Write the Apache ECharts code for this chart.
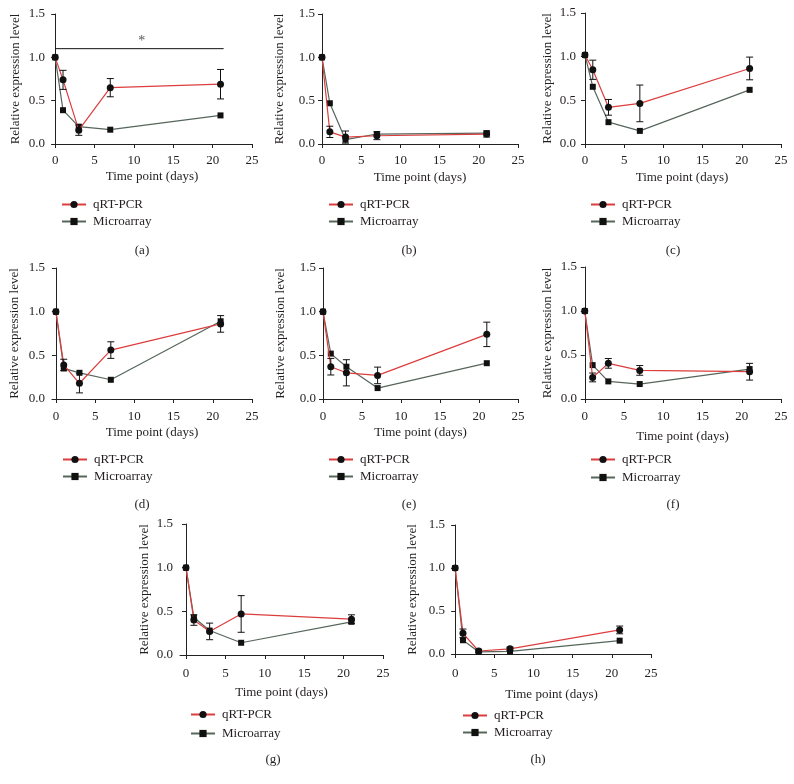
<!DOCTYPE html>
<html>
<head>
<meta charset="utf-8">
<script src="https://cdn.jsdelivr.net/npm/echarts@6/dist/echarts.min.js"></script>
<style>
html,body{margin:0;padding:0;background:#fff;}
#chart{width:794px;height:784px;}
</style>
</head>
<body>
<div id="chart"></div>
<script>
// ---- data ----
const days = [0, 1, 3, 7, 21];
const xTicks = [0, 5, 10, 15, 20, 25];
const yTicks = [0, 0.5, 1.0, 1.5];
const seriesNames = ['qRT-PCR', 'Microarray'];
const panelLabels = ['(a)', '(b)', '(c)', '(d)', '(e)', '(f)', '(g)', '(h)'];
const xAxisTitle = 'Time point (days)';
const yAxisTitle = 'Relative expression level';

const qpcrA = [1.0, 0.74, 0.16, 0.65, 0.69];
const errA  = [0, 0.11, 0.06, 0.105, 0.17];
const microA = [1.0, 0.39, 0.20, 0.165, 0.33];

const qpcrB = [1.0, 0.14, 0.08, 0.095, 0.115];
const errB  = [0, 0.065, 0.07, 0.045, 0.035];
const microB = [1.0, 0.47, 0.05, 0.115, 0.125];

const qpcrC = [1.02, 0.85, 0.42, 0.465, 0.865];
const errC  = [0, 0.11, 0.09, 0.21, 0.13];
const microC = [1.02, 0.655, 0.25, 0.15, 0.62];

const qpcrD = [1.0, 0.39, 0.18, 0.56, 0.86];
const errD  = [0, 0.065, 0.11, 0.095, 0.095];
const microD = [1.0, 0.35, 0.30, 0.22, 0.89];

const qpcrE = [1.0, 0.37, 0.30, 0.27, 0.74];
const errE  = [0, 0.095, 0.15, 0.095, 0.14];
const microE = [1.0, 0.52, 0.37, 0.125, 0.41];

const qpcrF = [1.0, 0.245, 0.405, 0.325, 0.31];
const errF  = [0, 0.05, 0.055, 0.055, 0.095];
const microF = [1.0, 0.385, 0.20, 0.17, 0.34];

const qpcrG = [1.0, 0.40, 0.27, 0.47, 0.41];
const errG  = [0, 0.06, 0.095, 0.21, 0.05];
const microG = [1.0, 0.43, 0.28, 0.14, 0.38];

const qpcrH = [1.0, 0.24, 0.035, 0.06, 0.28];
const errH  = [0, 0.05, 0.02, 0.02, 0.045];
const microH = [1.0, 0.16, 0.025, 0.03, 0.155];

// significance bar in panel (a)
const sigLineA = [[0, 1.1], [21.4, 1.1]];
const sigStarA = [[11, 1.19]];
const sigText = '*';

const qpcrAll = [qpcrA, qpcrB, qpcrC, qpcrD, qpcrE, qpcrF, qpcrG, qpcrH];
const errAll = [errA, errB, errC, errD, errE, errF, errG, errH];
const microAll = [microA, microB, microC, microD, microE, microF, microG, microH];

// ---- layout (positions / styles) ----
const layouts = [
  {left:52,  top:14,  width:200, height:130, xMin:-0.4,  yGap:30, xGap:26, xLab:10, legL:56,  legT:193, legGap:4, capX:137, capY:239},
  {left:322, top:14,  width:196, height:130, xMin:0,     yGap:36, xGap:27, xLab:10, legL:323, legT:193, legGap:4, capX:404, capY:239},
  {left:583, top:13,  width:198, height:131, xMin:-0.25, yGap:29, xGap:27, xLab:10, legL:585, legT:193, legGap:4, capX:668, capY:239},
  {left:52,  top:268, width:200, height:131, xMin:-0.5,  yGap:31, xGap:27, xLab:11, legL:57,  legT:448, legGap:4, capX:137, capY:493},
  {left:323, top:268, width:195, height:131, xMin:0,     yGap:36, xGap:27, xLab:11, legL:323, legT:448, legGap:4, capX:404, capY:493},
  {left:584, top:267, width:197, height:132, xMin:-0.1,  yGap:30, xGap:31, xLab:11, legL:585, legT:448, legGap:5, capX:668, capY:493},
  {left:180, top:524, width:203, height:131, xMin:-0.76, yGap:29, xGap:31, xLab:12, legL:185, legT:703, legGap:6, capX:268, capY:748},
  {left:452, top:525, width:199, height:129, xMin:-0.4,  yGap:33, xGap:34, xLab:13, legL:457, legT:704, legGap:4, capX:533, capY:748}
];

const FONT = '"Liberation Serif", "DejaVu Serif", serif';
const TEXT = '#231f20';
const RED = '#dd3d3d';
const GRAY = '#56665b';
const MARK = '#111111';

function renderErr(params, api) {
  const x = api.value(0), lo = api.value(1), hi = api.value(2);
  const pt = api.coord([x, hi]);
  const pb = api.coord([x, lo]);
  const w = 3.5;
  const st = {stroke: MARK, lineWidth: 1, fill: null};
  return {
    type: 'group',
    children: [
      {type:'line', shape:{x1:pt[0], y1:pt[1], x2:pb[0], y2:pb[1]}, style: st},
      {type:'line', shape:{x1:pt[0]-w, y1:pt[1], x2:pt[0]+w, y2:pt[1]}, style: st},
      {type:'line', shape:{x1:pb[0]-w, y1:pb[1], x2:pb[0]+w, y2:pb[1]}, style: st}
    ]
  };
}

const grid = [], xAxis = [], yAxis = [], series = [], legend = [], title = [];

layouts.forEach((L, i) => {
  grid.push({left:L.left, top:L.top, width:L.width, height:L.height, containLabel:false});
  xAxis.push({
    type:'value', gridIndex:i, min:L.xMin, max:25,
    name:xAxisTitle, nameLocation:'middle', nameGap:L.xGap,
    nameTextStyle:{fontFamily:FONT, fontSize:13, color:TEXT},
    axisLine:{show:true, onZero:false, lineStyle:{color:'#222', width:1}},
    axisTick:{show:true, length:4, customValues:xTicks, lineStyle:{color:'#222'}},
    axisLabel:{customValues:xTicks, margin:L.xLab, fontFamily:FONT, fontSize:13, color:TEXT},
    splitLine:{show:false}
  });
  yAxis.push({
    type:'value', gridIndex:i, min:0, max:1.5, interval:0.5,
    name:yAxisTitle, nameLocation:'middle', nameGap:L.yGap, nameRotate:90,
    nameTextStyle:{fontFamily:FONT, fontSize:13, color:TEXT},
    axisLine:{show:true, lineStyle:{color:'#222', width:1}},
    axisTick:{show:true, length:4, lineStyle:{color:'#222'}},
    axisLabel:{margin:7, fontFamily:FONT, fontSize:13, color:TEXT,
      formatter: v => (yTicks.includes(v) ? v.toFixed(1) : '')},
    splitLine:{show:false}
  });
  const q = qpcrAll[i], e = errAll[i], m = microAll[i];
  series.push({
    name:seriesNames[1], type:'line', xAxisIndex:i, yAxisIndex:i,
    data: days.map((d, j) => [d, m[j]]),
    symbol:'rect', symbolSize:6, showSymbol:true,
    itemStyle:{color:MARK}, lineStyle:{color:GRAY, width:1.2},
    z:3, animation:false
  });
  series.push({
    name:seriesNames[0], type:'line', xAxisIndex:i, yAxisIndex:i,
    data: days.map((d, j) => [d, q[j]]),
    symbol:'circle', symbolSize:7, showSymbol:true,
    itemStyle:{color:MARK}, lineStyle:{color:RED, width:1.2},
    z:4, animation:false
  });
  series.push({
    name:'err' + i, type:'custom', xAxisIndex:i, yAxisIndex:i,
    renderItem: renderErr,
    encode:{x:0, y:[1, 2]},
    data: days.map((d, j) => [d, q[j] - e[j], q[j] + e[j]]).filter((r, j) => e[j] > 0),
    z:5, animation:false, silent:true
  });
  legend.push({
    left:L.legL, top:L.legT, orient:'vertical', data:seriesNames,
    itemWidth:24, itemHeight:9, itemGap:L.legGap, selectedMode:false,
    textStyle:{fontFamily:FONT, fontSize:13, color:TEXT, padding:[0,0,0,2]}
  });
  title.push({
    text:panelLabels[i], left:L.capX, top:L.capY, textAlign:'center',
    textStyle:{fontFamily:FONT, fontSize:13, fontWeight:'normal', color:TEXT}
  });
});

// significance bar in (a)
series.push({
  name:'sig', type:'line', xAxisIndex:0, yAxisIndex:0, data:sigLineA,
  symbol:'none', lineStyle:{color:'#111', width:1}, z:2, animation:false, silent:true
});
series.push({
  name:'sigStar', type:'scatter', xAxisIndex:0, yAxisIndex:0, data:sigStarA,
  symbolSize:2, itemStyle:{color:'rgba(0,0,0,0)'},
  label:{show:true, position:'inside', formatter:sigText, fontFamily:FONT, fontSize:14, color:TEXT},
  z:6, animation:false, silent:true
});

const chart = echarts.init(document.getElementById('chart'), null, {renderer:'canvas'});
chart.setOption({
  backgroundColor:'#ffffff',
  animation:false,
  title, grid, xAxis, yAxis, legend, series
});
</script>
</body>
</html>
